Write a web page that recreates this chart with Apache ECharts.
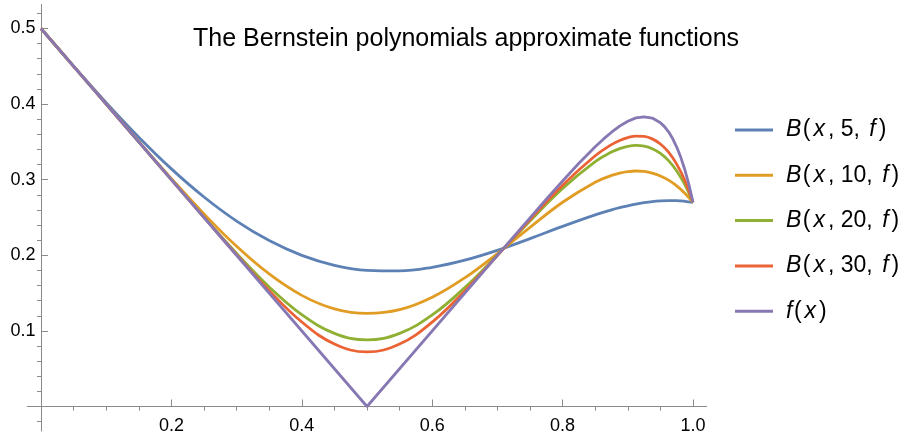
<!DOCTYPE html>
<html>
<head>
<meta charset="utf-8">
<script src="https://cdn.jsdelivr.net/npm/echarts@6/dist/echarts.min.js"></script>
<style>
html,body{margin:0;padding:0;background:#fff;}
#c{width:904px;height:434px;}
</style>
</head>
<body>
<div id="c"></div>
<script>
// ---- data ----
const xs = [0,0.05,0.1,0.15,0.2,0.25,0.3,0.35,0.4,0.45,0.5,0.55,0.6,0.65,0.7,0.75,0.8,0.85,0.875,0.8875,0.9,0.9125,0.925,0.9375,0.95,0.9625,0.975,0.9875,1];
const b5  = [0.5,0.4502,0.4019,0.3562,0.3143,0.2771,0.2453,0.2195,0.1999,0.1868,0.1801,0.1793,0.1841,0.1935,0.2066,0.2221,0.2383,0.2535,0.2601,0.2630,0.2655,0.2678,0.2696,0.2710,0.2719,0.2723,0.2722,0.2714,0.27];
const b10 = [0.5,0.45,0.4,0.3503,0.3015,0.2547,0.2119,0.1753,0.1470,0.1292,0.1231,0.1280,0.1445,0.1702,0.2023,0.2370,0.2702,0.2967,0.3057,0.3088,0.3107,0.3115,0.3109,0.3088,0.3050,0.2995,0.2919,0.2821,0.27];
const b20 = [0.5,0.45,0.4,0.35,0.3001,0.2505,0.2024,0.1581,0.1214,0.0968,0.0881,0.0967,0.1211,0.1573,0.2003,0.2454,0.2883,0.3238,0.3365,0.3411,0.3441,0.3453,0.3444,0.3410,0.3348,0.3252,0.3116,0.2935,0.27];
const b30 = [0.5,0.45,0.4,0.35,0.3,0.2501,0.2007,0.1532,0.1118,0.0827,0.0722,0.0827,0.1117,0.1529,0.1997,0.2474,0.2928,0.3317,0.3464,0.3519,0.3557,0.3577,0.3572,0.3540,0.3472,0.3364,0.3206,0.2989,0.27];
const fx = [0,0.5,0.7,0.75,0.775,0.8,0.825,0.85,0.8625,0.875,0.8875,0.9,0.9125,0.925,0.9375,0.95,0.95625,0.9625,0.96875,0.975,0.98125,0.9875,0.99375,1];
const fy = [0.5,0,0.1999,0.2496,0.2742,0.2983,0.3217,0.3436,0.3536,0.3628,0.3708,0.3774,0.3818,0.3832,0.3815,0.3754,0.3702,0.3633,0.3544,0.3432,0.3296,0.3131,0.2934,0.27];
const seriesNames = ['B5','B10','B20','B30','f'];
const legendLabels = ['5','10','20','30'];
const xMajor = [0.2,0.4,0.6,0.8,1.0];
const xMinor = [0.05,0.1,0.15,0.25,0.3,0.35,0.45,0.5,0.55,0.65,0.7,0.75,0.85,0.9,0.95];
const yMajor = [0.1,0.2,0.3,0.4,0.5];
const yMinor = [-0.02,0.02,0.04,0.06,0.08,0.12,0.14,0.16,0.18,0.22,0.24,0.26,0.28,0.32,0.34,0.36,0.38,0.42,0.44,0.46,0.48,0.52];
const colors = ['#5E81B5','#E19C24','#8FB032','#EB6235','#8778B3'];

const FONT = '"Liberation Sans", Arial, Helvetica, sans-serif';
const AX = '#8a8a8a';

function pairs(x, y){ return x.map((v,i)=>[v,y[i]]); }
const bData = [b5,b10,b20,b30];

const series = bData.map((arr,i)=>({
  name: seriesNames[i], type:'line', xAxisIndex:0, yAxisIndex:0,
  data: pairs(xs, arr), smooth: 0.4, showSymbol:false, symbol:'none',
  lineStyle:{width:2.8, color:colors[i]}, itemStyle:{color:colors[i]}, z: 2+i
}));
series.push({
  name: seriesNames[4], type:'line', xAxisIndex:0, yAxisIndex:0,
  data: pairs(fx, fy), smooth:false, showSymbol:false, symbol:'none',
  lineStyle:{width:2.8, color:colors[4]}, itemStyle:{color:colors[4]}, z: 7
});

const ib = {fontFamily:FONT, fontSize:23, fontStyle:'italic', color:'#000', padding:[0,1.5,0,0]};
const it = {fontFamily:FONT, fontSize:23, fontStyle:'italic', color:'#000', padding:[0,3,0,3]};
const nt = {fontFamily:FONT, fontSize:23, fontStyle:'normal', color:'#000'};

const chart = echarts.init(document.getElementById('c'), null, {renderer:'canvas'});
chart.setOption({
  animation:false,
  backgroundColor:'#fff',
  color: colors,
  title:{
    text:'The Bernstein polynomials approximate functions',
    left:188, top:22,
    textStyle:{fontFamily:FONT, fontSize:25, fontWeight:'normal', color:'#000'}
  },
  legend:{
    orient:'vertical', left:735, top:117, padding:0,
    itemWidth:38, itemHeight:3, itemGap:19.3, icon:'rect',
    data: seriesNames,
    formatter: function(name){
      const i = seriesNames.indexOf(name);
      if (i < 4) return '{p|}{b|B}{n|(}{i|x}{n|, ' + legendLabels[i] + ', }{i|f}{n|)}';
      return '{p|}{b|f}{n|(}{i|x}{n|)}';
    },
    textStyle:{
      fontFamily:FONT, fontSize:23, color:'#000', lineHeight:26,
      rich:{ p:{width:8}, b:ib, i:it, n:nt }
    }
  },
  grid:{left:27.3, right:197.3, top:4.3, bottom:3, containLabel:false, outerBoundsMode:'none'},
  xAxis:[{
    type:'value', min:-0.021, max:1.021,
    axisLine:{show:true, onZero:true, onZeroAxisIndex:0, lineStyle:{color:AX, width:1}},
    axisTick:{show:true, inside:true, length:7, customValues:xMajor, lineStyle:{color:AX}},
    axisLabel:{show:true, customValues:xMajor, margin:-14, color:'#000', fontFamily:FONT, fontSize:18,
      formatter:v=>v.toFixed(1)},
    splitLine:{show:false}
  },{
    type:'value', min:-0.021, max:1.021,
    axisLine:{show:false, onZero:true, onZeroAxisIndex:0},
    axisTick:{show:true, inside:true, length:4, customValues:xMinor, lineStyle:{color:AX}},
    axisLabel:{show:false}, splitLine:{show:false}
  }],
  yAxis:[{
    type:'value', min:-0.0324, max:0.532,
    axisLine:{show:true, onZero:true, onZeroAxisIndex:0, lineStyle:{color:AX, width:1}},
    axisTick:{show:true, inside:true, length:7, customValues:yMajor, lineStyle:{color:AX}},
    axisLabel:{show:true, customValues:yMajor, margin:-8.2, color:'#000', fontFamily:FONT, fontSize:18,
      formatter:v=>v.toFixed(1)},
    splitLine:{show:false}
  },{
    type:'value', min:-0.0324, max:0.532,
    axisLine:{show:false, onZero:true, onZeroAxisIndex:0},
    axisTick:{show:true, inside:true, length:4, customValues:yMinor, lineStyle:{color:AX}},
    axisLabel:{show:false}, splitLine:{show:false}
  }],
  series: series
});
</script>
</body>
</html>
